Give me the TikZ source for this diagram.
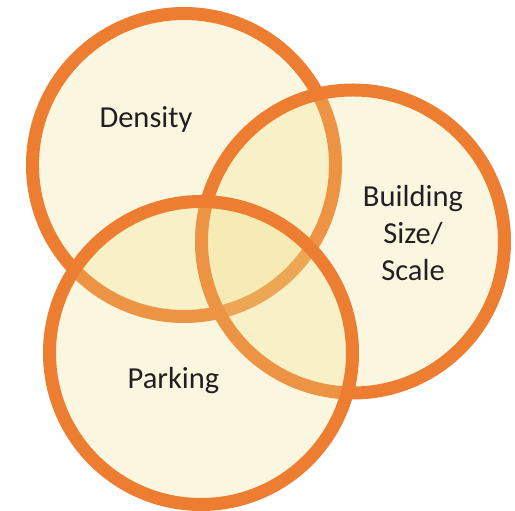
\documentclass[tikz,border=0pt]{standalone}
\usepackage{fontspec}
\setmainfont{Carlito}
\definecolor{ringorange}{HTML}{ED7D31}
\definecolor{ringfill}{HTML}{F0DC80}
\definecolor{labeltext}{HTML}{231F20}
\begin{document}
\begin{tikzpicture}[x=1pt,y=1pt,
  ring/.style={circle, draw=ringorange, line width=13pt, fill=ringfill, fill opacity=0.25, draw opacity=1, minimum size=303pt, inner sep=0pt},
  lbl/.style={text=labeltext, align=center, font=\fontsize{30.5}{37}\selectfont, inner sep=0pt}]
\useasboundingbox (0,0) rectangle (515,511);
\node[ring] (dens) at (184,346) {};
\node[ring] (bldg) at (353,269.5) {};
\node[ring] (park) at (201,158) {};
\node[lbl] (tdens) at (146,392) {Density};
\node[lbl] (tbldg) at (413,278) {Building\\Size/\\Scale};
\node[lbl] (tpark) at (173.5,130) {Parking};
\end{tikzpicture}
\end{document}
